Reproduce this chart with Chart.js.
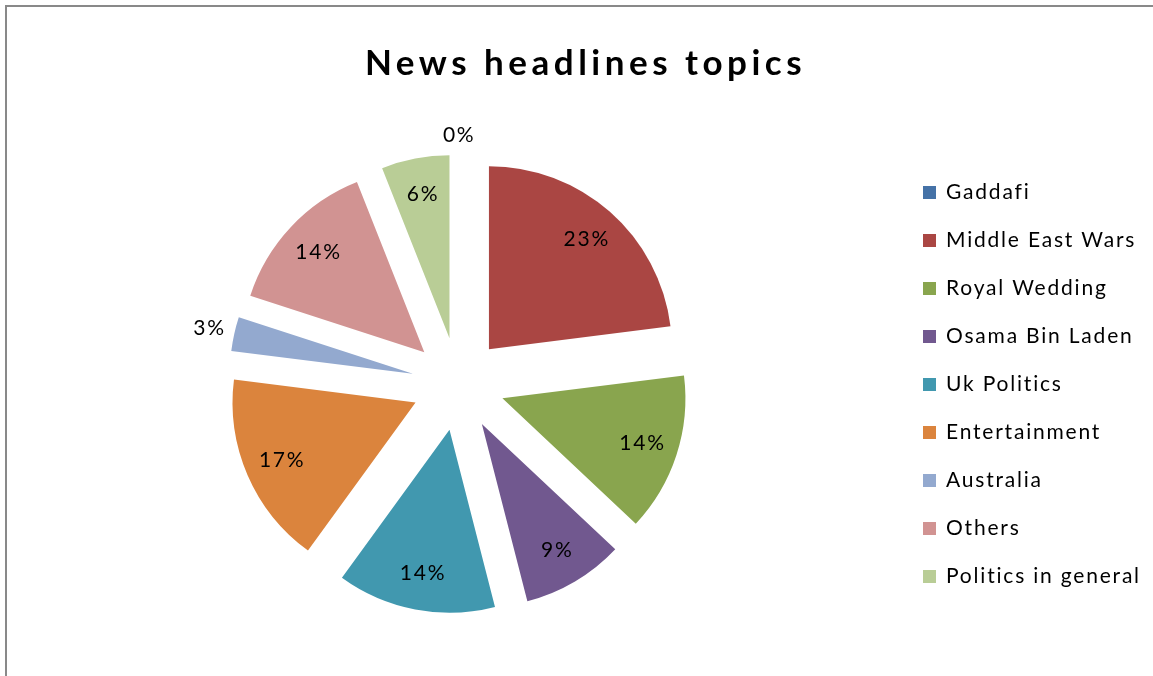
<!DOCTYPE html>
<html>
<head>
<meta charset="utf-8">
<script src="https://cdn.jsdelivr.net/npm/chart.js@4.4.1/dist/chart.umd.min.js"></script>
<style>
    html, body { margin: 0; padding: 0; background: #fff; overflow: hidden; }
    #wrap { position: relative; width: 1153px; height: 676px; overflow: hidden; }
    #frame { position: absolute; left: 5px; top: 5px; width: 1200px; height: 720px; border: 2px solid #898989; }
    canvas { position: absolute; left: 0; top: 0; }
</style>
</head>
<body>
<div id="wrap">
    <div id="frame"></div>
    <canvas id="pie-canvas" width="1153" height="676"></canvas>
</div>
<script>
// news topics pie - share of headlines per topic, in percent
const topics = ['Gaddafi', 'Middle East Wars', 'Royal Wedding', 'Osama Bin Laden', 'Uk Politics',
    'Entertainment', 'Australia', 'Others', 'Politics in general'];
const shares = [0, 23, 14, 9, 14, 17, 3, 14, 6];
const colours = ['#4572A7', '#AA4643', '#89A54E', '#71588F', '#4198AF',
    '#DB843D', '#93A9CF', '#D19392', '#B9CD96'];
const chartTitle = 'News headlines topics';

const EXPLODE = 0.254;   // slice pull-out, as a fraction of the radius
const LABEL_FONT = '21px Lato';
const LABEL_SPACING = '1.8px';

// pull every slice out from the centre along its middle angle
const explodePlugin = {
    id: 'explode',
    beforeDatasetsDraw(chart) {
        const area = chart.chartArea;
        const cx = (area.left + area.right) / 2;
        const cy = (area.top + area.bottom) / 2;
        chart.getDatasetMeta(0).data.forEach(arc => {
            const mid = (arc.startAngle + arc.endAngle) / 2;
            const shift = arc.outerRadius * EXPLODE;
            arc.x = cx + Math.cos(mid) * shift;
            arc.y = cy + Math.sin(mid) * shift;
        });
    }
};

// percentage labels: inside the slice, or just outside when it is too thin
const labelPlugin = {
    id: 'sliceLabels',
    afterDatasetsDraw(chart) {
        const ctx = chart.ctx;
        ctx.save();
        ctx.font = LABEL_FONT;
        ctx.letterSpacing = LABEL_SPACING;
        ctx.fillStyle = '#000';
        ctx.textAlign = 'center';
        ctx.textBaseline = 'middle';
        chart.getDatasetMeta(0).data.forEach((arc, i) => {
            const val = shares[i];
            const txt = val + '%';
            const mid = (arc.startAngle + arc.endAngle) / 2;
            const r = arc.outerRadius;
            let dist = r * 0.8;
            if (val < 5) {
                const halfW = ctx.measureText(txt).width / 2;
                dist = r + 8 + Math.abs(Math.cos(mid)) * halfW + Math.abs(Math.sin(mid)) * 11;
            }
            ctx.fillText(txt, arc.x + Math.cos(mid) * dist + 1, arc.y + Math.sin(mid) * dist);
        });
        ctx.restore();
    }
};

// title and the legend column on the right
const decorPlugin = {
    id: 'decor',
    afterDraw(chart) {
        const ctx = chart.ctx;
        ctx.save();
        ctx.fillStyle = '#000';
        ctx.font = 'bold 35px Lato';
        ctx.letterSpacing = '4.5px';
        ctx.textAlign = 'center';
        ctx.textBaseline = 'alphabetic';
        ctx.fillText(chartTitle, 585.5, 75);

        ctx.font = LABEL_FONT;
        ctx.letterSpacing = LABEL_SPACING;
        ctx.textAlign = 'left';
        ctx.textBaseline = 'middle';
        topics.forEach((name, i) => {
            const y = 192.5 + i * 48;
            ctx.fillStyle = colours[i];
            ctx.fillRect(923, y - 6.5, 13, 13);
            ctx.fillStyle = '#000';
            ctx.fillText(name, 946, y);
        });
        ctx.restore();
    }
};

const ctx = document.getElementById('pie-canvas').getContext('2d');
new Chart(ctx, {
    type: 'pie',
    data: {
        labels: topics,
        datasets: [{
            data: shares,
            backgroundColor: colours,
            borderWidth: 0,
            radius: 183
        }]
    },
    options: {
        responsive: false,
        animation: false,
        events: [],
        layout: { padding: { left: 0, top: 92, right: 236.6, bottom: 0 } },
        plugins: {
            legend: { display: false },
            title: { display: false },
            tooltip: { enabled: false }
        }
    },
    plugins: [explodePlugin, labelPlugin, decorPlugin]
});
</script>
</body>
</html>
